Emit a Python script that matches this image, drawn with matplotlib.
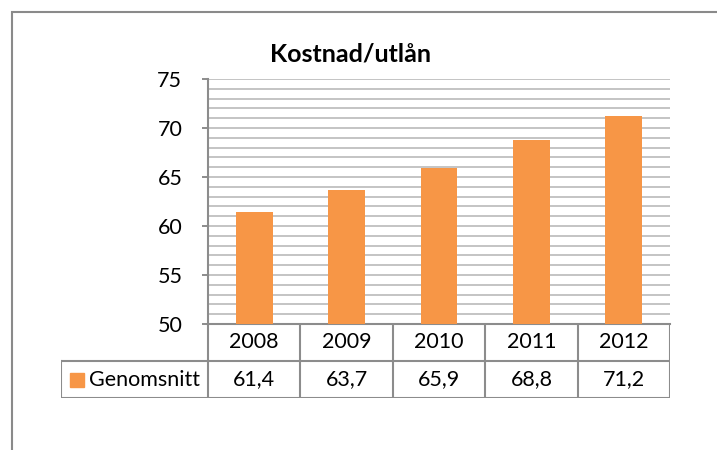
import matplotlib
matplotlib.use("Agg")
from matplotlib import pyplot as plt
from matplotlib.patches import Rectangle

years = ["2008", "2009", "2010", "2011", "2012"]
values = [61.4, 63.7, 65.9, 68.8, 71.2]
series_name = "Genomsnitt"
title = "Kostnad/utlån"

orange = "#F79646"
grid_c = "#BFBFBF"
line_c = "#8C8C8C"
fs = 15.5

plt.rcParams["font.family"] = ["Lato", "DejaVu Sans"]

W, H = 717, 450
fig = plt.figure(figsize=(W / 100, H / 100), dpi=100)

# outer chart frame
fig.patches.append(Rectangle((12 / W, -0.01), 1.02 - 12 / W, 1 - 12 / H + 0.01,
                             transform=fig.transFigure, fill=False,
                             edgecolor="#8A8A8A", lw=1.5))

x0, x1, ytop, ybot = 208, 670, 79, 324
ax = fig.add_axes([x0 / W, 1 - ybot / H, (x1 - x0) / W, (ybot - ytop) / H])
xs = range(len(years))
ax.bar(xs, values, width=0.4, color=orange, zorder=3)
ax.set_xlim(-0.5, len(years) - 0.5)
ax.set_ylim(50, 75)
ax.set_yticks(range(50, 76, 5))
ax.set_yticks(range(50, 76, 1), minor=True)
ax.tick_params(axis="y", which="major", length=4.5, width=1.4, color=line_c,
               labelsize=fs, pad=14)
ax.tick_params(axis="y", which="minor", length=0)
ax.set_xticks([])
ax.grid(axis="y", which="both", color=grid_c, lw=1.3, zorder=0)
for s in ["top", "right"]:
    ax.spines[s].set_visible(False)
for s in ["left", "bottom"]:
    ax.spines[s].set_color(line_c)
    ax.spines[s].set_linewidth(1.5)
ax.set_axisbelow(True)

fig.text(351 / W, 1 - 54 / H, title, ha="center", va="center",
         fontsize=18, fontweight="bold")

# data table below the axes
tx0, tbot = 61, 398
cw = (x1 - x0) / len(years)
tax = fig.add_axes([tx0 / W, 1 - tbot / H, (x1 - tx0) / W, (tbot - ybot) / H])
left = -0.5 - (x0 - tx0) / cw
tax.set_xlim(left, len(years) - 0.5)
tax.set_ylim(0, 2)
tax.axis("off")
lk = dict(color=line_c, lw=1.5, solid_capstyle="projecting")
tax.plot([-0.5, len(years) - 0.5], [1, 1], **lk)
tax.plot([left, len(years) - 0.5], [0, 0], **lk)
tax.plot([left, -0.5], [1, 1], **lk)
tax.plot([left, left], [0, 1], **lk)
for i in range(len(years) + 1):
    tax.plot([i - 0.5, i - 0.5], [0, 2], **lk)
for i, (yr, v) in enumerate(zip(years, values)):
    tax.text(i, 1.5, yr, ha="center", va="center", fontsize=fs)
    tax.text(i, 0.5, f"{v:.1f}".replace(".", ","), ha="center", va="center",
             fontsize=fs)
tax.add_patch(Rectangle((left + 9 / cw, 0.5 - 7 / 37), 14 / cw, 14 / 37,
                        color=orange, clip_on=False))
tax.text(left + 28 / cw, 0.5, series_name, ha="left", va="center", fontsize=fs)

fig.savefig("out.png", dpi=100)
